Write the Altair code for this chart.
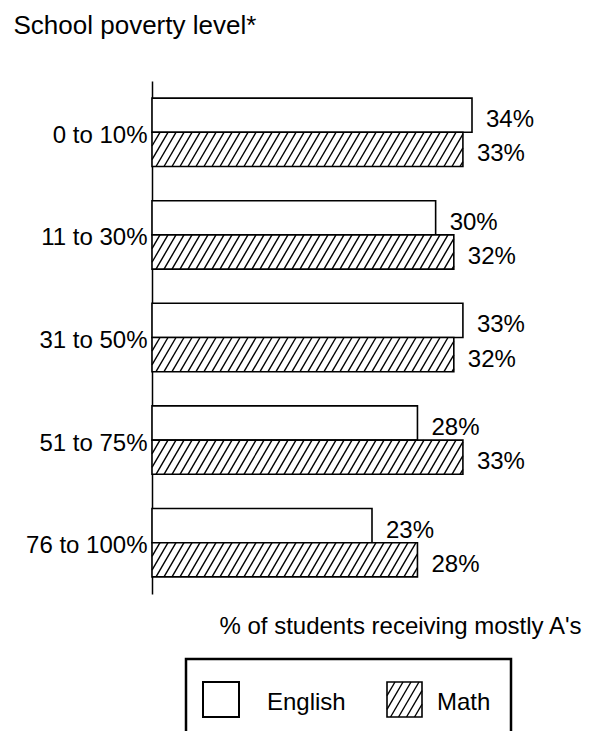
import json
import altair as alt
import pandas as pd

# ---------------- data ----------------
categories = ["0 to 10%", "11 to 30%", "31 to 50%", "51 to 75%", "76 to 100%"]
english = [34, 30, 33, 28, 23]
math = [33, 32, 32, 33, 28]
subjects = ["English", "Math"]

# ---------------- layout / style constants ----------------
FONT = "Liberation Sans"
W, H = 375, 513
PAD = {"left": 152, "top": 81, "right": 78, "bottom": 137}
X_MIN, X_MAX = -1.2, 40.05
Y_MIN, Y_MAX = -0.5, 14.5
PX_PER_PCT = W / (X_MAX - X_MIN)
HATCH_SPACING_PX = 8.0
HATCH_RUN_PX = 20.0  # horizontal run of one hatch line over a bar's height
BAR_PX = H / (Y_MAX - Y_MIN)

# ---------------- bar table ----------------
rows = []
for i, cat in enumerate(categories):
    for j, (subj, vals) in enumerate(zip(subjects, [english, math])):
        top = 3 * i + j
        rows.append({
            "category": cat,
            "subject": subj,
            "value": vals[i],
            "label": f"{vals[i]}%",
            "y_top": top,
            "y_bot": top + 1,
            "y_mid": top + 0.5,
        })
bars = pd.DataFrame(rows)

# ---------------- hatch lines for Math bars (data units) ----------------
sp = HATCH_SPACING_PX / PX_PER_PCT
run = HATCH_RUN_PX / PX_PER_PCT
hatch = []
for _, r in bars[bars.subject == "Math"].iterrows():
    v, top, bot = r["value"], r["y_top"], r["y_bot"]
    x0 = X_MIN - run
    while x0 < v:
        f_lo = max(0.0, (X_MIN - x0) / run)
        f_hi = min(1.0, (v - x0) / run)
        if f_hi > f_lo:
            hatch.append({
                "xa": x0 + f_lo * run, "ya": bot - f_lo * (bot - top),
                "xb": x0 + f_hi * run, "yb": bot - f_hi * (bot - top),
            })
        x0 += sp
hatch = pd.DataFrame(hatch)

# ---------------- legend geometry (pixels, relative to plot origin) ----------------
LEG_BOX = (186 - 152, 511 - 152, 659 - 81, 780 - 81)
SW_EN = (203 - 152, 239 - 152, 682 - 81, 717 - 81)
SW_MA = (387 - 152, 422 - 152, 682 - 81, 717 - 81)
LEG_TEXT_X = [267 - 152, 437 - 152]
LEG_TEXT_Y = 703 - 81
leg_hatch = []
sx0, sx1, sy0, sy1 = SW_MA
h = sy1 - sy0
lrun = HATCH_RUN_PX * h / BAR_PX
x0 = sx0 - lrun
while x0 < sx1:
    f_lo = max(0.0, (sx0 - x0) / lrun)
    f_hi = min(1.0, (sx1 - x0) / lrun)
    if f_hi > f_lo:
        leg_hatch.append({
            "px_a": x0 + f_lo * lrun, "py_a": sy1 - f_lo * h,
            "px_b": x0 + f_hi * lrun, "py_b": sy1 - f_hi * h,
        })
    x0 += HATCH_SPACING_PX
leg_hatch = pd.DataFrame(leg_hatch)

# ---------------- scales & axes ----------------
label_expr = f"{json.dumps(categories)}[floor(datum.value / 3)]"
x_scale = alt.Scale(domain=[X_MIN, X_MAX], nice=False, zero=False)
y_scale = alt.Scale(domain=[Y_MIN, Y_MAX], nice=False, zero=False, reverse=True)

x_axis = alt.Axis(
    title="% of students receiving mostly A's", orient="bottom",
    domain=False, ticks=False, labels=False, grid=False,
    titleFont=FONT, titleFontSize=24, titleFontWeight="normal", titleColor="black",
    titleX=248, titleY=39, titleAlign="center", titleBaseline="alphabetic",
)
y_axis = alt.Axis(
    title="School poverty level*", orient="left",
    values=[1, 4, 7, 10, 13], labelExpr=label_expr,
    domain=True, domainColor="black", domainWidth=1.5,
    ticks=False, grid=False,
    labelFont=FONT, labelFontSize=24, labelColor="black", labelPadding=5,
    labelBaseline="middle", labelOffset=3,
    titleFont=FONT, titleFontSize=26, titleFontWeight="normal", titleColor="black",
    titleAngle=0, titleAlign="left", titleBaseline="alphabetic",
    titleX=13 - 152, titleY=33 - 81,
)

base = alt.Chart(bars)

bar_layer = base.mark_rect(fill="white", stroke="black", strokeWidth=1.6).encode(
    x=alt.X("value:Q", scale=x_scale, axis=x_axis),
    x2=alt.value(0),
    y=alt.Y("y_top:Q", scale=y_scale, axis=y_axis),
    y2="y_bot:Q",
)

hatch_layer = alt.Chart(hatch).mark_rule(color="black", strokeWidth=1.4).encode(
    x=alt.X("xa:Q", scale=x_scale, axis=x_axis), x2="xb:Q",
    y=alt.Y("ya:Q", scale=y_scale, axis=y_axis), y2="yb:Q",
)

text_layer = base.mark_text(
    align="left", baseline="middle", dx=14, dy=5,
    font=FONT, fontSize=24, color="black",
).encode(
    x=alt.X("value:Q", scale=x_scale, axis=x_axis),
    y=alt.Y("y_mid:Q", scale=y_scale, axis=y_axis),
    text="label:N",
)

# legend
one = pd.DataFrame({"k": [0]})
leg_box = alt.Chart(one).mark_rect(
    fill="transparent", stroke="black", strokeWidth=2.5
).encode(
    x=alt.value(LEG_BOX[0]), x2=alt.value(LEG_BOX[1]),
    y=alt.value(LEG_BOX[2]), y2=alt.value(LEG_BOX[3]),
)
leg_en = alt.Chart(one).mark_rect(
    fill="white", stroke="black", strokeWidth=2
).encode(
    x=alt.value(SW_EN[0]), x2=alt.value(SW_EN[1]),
    y=alt.value(SW_EN[2]), y2=alt.value(SW_EN[3]),
)
leg_ma = alt.Chart(one).mark_rect(
    fill="white", stroke="black", strokeWidth=1.6
).encode(
    x=alt.value(SW_MA[0]), x2=alt.value(SW_MA[1]),
    y=alt.value(SW_MA[2]), y2=alt.value(SW_MA[3]),
)
leg_hatch_layer = alt.Chart(leg_hatch).mark_rule(color="black", strokeWidth=1.4).encode(
    x=alt.X("px_a:Q", scale=None, axis=None), x2="px_b:Q",
    y=alt.Y("py_a:Q", scale=None, axis=None), y2="py_b:Q",
)
leg_texts = [
    alt.Chart(one).mark_text(
        align="left", baseline="middle", font=FONT, fontSize=24, color="black",
        text=name,
    ).encode(x=alt.value(tx), y=alt.value(LEG_TEXT_Y))
    for name, tx in zip(subjects, LEG_TEXT_X)
]

chart = alt.layer(
    bar_layer, hatch_layer, text_layer,
    leg_box, leg_en, leg_ma, leg_hatch_layer, *leg_texts,
).properties(
    width=W, height=H,
    padding=PAD,
    autosize=alt.AutoSizeParams(type="none"),
    background="white",
).configure_view(stroke=None)

chart.save("out.html", embed_options={"renderer": "svg", "actions": False})
